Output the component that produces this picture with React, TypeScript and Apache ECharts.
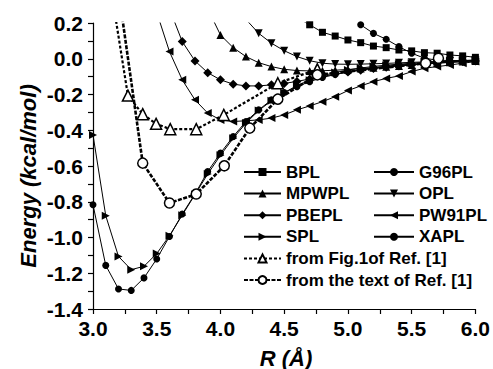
import React, { useEffect, useRef } from "react";
import * as echarts from "echarts";

// ---- data ----
const R_BPL = [4.6, 4.7, 4.8, 4.9, 5.0, 5.1, 5.2, 5.3, 5.4, 5.5, 5.6, 5.7, 5.8, 5.9, 6.0];
const E_BPL = [0.23, 0.19, 0.148, 0.127, 0.105, 0.09, 0.071, 0.062, 0.049, 0.044, 0.034, 0.031, 0.021, 0.016, 0.008];

const R_G96PL = [5.0, 5.1, 5.2, 5.3, 5.4, 5.5, 5.6, 5.7, 5.8, 5.9, 6.0];
const E_G96PL = [0.3, 0.19, 0.142, 0.109, 0.068, 0.031, 0.003, -0.008, -0.01, -0.01, -0.008];

const R_MPWPL = [3.9, 4.0, 4.1, 4.2, 4.3, 4.4, 4.5, 4.6, 4.7, 4.8, 4.9, 5.0, 5.1, 5.2, 5.3, 5.4, 5.5, 5.6, 5.7, 5.8, 5.9, 6.0];
const E_MPWPL = [0.28, 0.133, 0.062, 0.012, -0.022, -0.044, -0.059, -0.066, -0.068, -0.067, -0.064, -0.06, -0.055, -0.05, -0.045, -0.04, -0.035, -0.03, -0.025, -0.02, -0.016, -0.012];

const R_OPL = [4.2, 4.3, 4.4, 4.5, 4.6, 4.7, 4.8, 4.9, 5.0, 5.1, 5.2, 5.3, 5.4, 5.5, 5.6, 5.7, 5.8, 5.9, 6.0];
const E_OPL = [0.22, 0.142, 0.087, 0.045, 0.012, -0.011, -0.025, -0.03, -0.031, -0.03, -0.028, -0.026, -0.023, -0.02, -0.018, -0.015, -0.012, -0.01, -0.008];

const R_PBEPL = [3.6, 3.7, 3.8, 3.9, 4.0, 4.1, 4.2, 4.3, 4.4, 4.5, 4.6, 4.7, 4.8, 4.9, 5.0, 5.1, 5.2, 5.3, 5.4, 5.5, 5.6, 5.7, 5.8, 5.9, 6.0];
const E_PBEPL = [0.28, 0.096, -0.012, -0.078, -0.118, -0.142, -0.152, -0.152, -0.146, -0.138, -0.127, -0.113, -0.099, -0.086, -0.074, -0.064, -0.055, -0.047, -0.04, -0.034, -0.029, -0.024, -0.02, -0.016, -0.013];

const R_PW91PL = [3.5, 3.6, 3.7, 3.8, 3.9, 4.0, 4.1, 4.2, 4.3, 4.4, 4.5, 4.6, 4.7, 4.8, 4.9, 5.0, 5.1, 5.2, 5.3, 5.4, 5.5, 5.6, 5.7, 5.8, 5.9, 6.0];
const E_PW91PL = [0.26, 0.04, -0.118, -0.23, -0.304, -0.342, -0.351, -0.347, -0.342, -0.332, -0.314, -0.286, -0.264, -0.24, -0.212, -0.178, -0.152, -0.128, -0.11, -0.096, -0.072, -0.053, -0.044, -0.035, -0.025, -0.016];

const R_SPL = [3.0, 3.1, 3.2, 3.3, 3.4, 3.5, 3.6, 3.7, 3.8, 3.9, 4.0, 4.1, 4.2, 4.3, 4.4, 4.5, 4.6, 4.7, 4.8, 4.9, 5.0, 5.1, 5.2, 5.3, 5.4, 5.5, 5.6, 5.7, 5.8, 5.9, 6.0];
const E_SPL = [-0.426, -0.878, -1.106, -1.18, -1.161, -1.09, -0.99, -0.875, -0.76, -0.645, -0.54, -0.445, -0.36, -0.29, -0.235, -0.19, -0.15, -0.12, -0.095, -0.077, -0.063, -0.052, -0.043, -0.036, -0.03, -0.025, -0.021, -0.017, -0.014, -0.011, -0.009];

const R_XAPL = [3.0, 3.1, 3.2, 3.3, 3.4, 3.5, 3.6, 3.7, 3.8, 3.9, 4.0, 4.1, 4.2, 4.3, 4.4, 4.5, 4.6, 4.7, 4.8, 4.9, 5.0, 5.1, 5.2, 5.3, 5.4, 5.5, 5.6, 5.7, 5.8, 5.9, 6.0];
const E_XAPL = [-0.817, -1.156, -1.288, -1.296, -1.226, -1.12, -0.994, -0.869, -0.757, -0.631, -0.528, -0.435, -0.351, -0.286, -0.23, -0.189, -0.156, -0.128, -0.105, -0.088, -0.073, -0.06, -0.05, -0.042, -0.035, -0.03, -0.025, -0.02, -0.016, -0.013, -0.01];

const R_FIG1 = [3.15, 3.274, 3.39, 3.495, 3.606, 3.81, 4.026, 4.45, 4.76];
const E_FIG1 = [0.35, -0.206, -0.31, -0.364, -0.394, -0.394, -0.314, -0.137, -0.059];

const R_TEXT = [3.2, 3.39, 3.6, 3.81, 4.03, 4.23, 4.45, 4.76, 5.61, 5.71];
const E_TEXT = [0.38, -0.584, -0.807, -0.757, -0.599, -0.388, -0.226, -0.09, -0.025, 0.003];

const legendLeft = ["BPL", "MPWPL", "PBEPL", "SPL", "from Fig.1of Ref. [1]", "from the text of Ref. [1]"];
const legendRight = ["G96PL", "OPL", "PW91PL", "XAPL"];

const FONT = '"Liberation Sans", Arial, Helvetica, sans-serif';

const pairs = (r: number[], e: number[]) => r.map((x, i) => [x, e[i]]);

function funcSeries(name: string, r: number[], e: number[], symbol: string, size: number, rotate = 0) {
  return {
    name,
    type: "line",
    data: pairs(r, e),
    symbol,
    symbolSize: size,
    symbolRotate: rotate,
    clip: true,
    lineStyle: { color: "#000", width: 1 },
    itemStyle: { color: "#000", borderColor: "#000", borderWidth: 0 },
    z: 2,
  };
}

function refSeries(name: string, r: number[], e: number[], symbol: string, size: number, dash: number[], width: number) {
  return {
    name,
    type: "line",
    data: pairs(r, e),
    symbol,
    symbolSize: size,
    clip: true,
    lineStyle: { color: "#000", width, type: dash },
    itemStyle: { color: "#fff", borderColor: "#000", borderWidth: 1.5 },
    z: 3,
  };
}

export default function App() {
  const ref = useRef<HTMLDivElement>(null);
  useEffect(() => {
    if (!ref.current) return;
    const chart = echarts.init(ref.current, null, { renderer: "svg" });
    const legendCommon = {
      orient: "vertical",
      padding: 0,
      itemHeight: 10,
      itemGap: 4.6,
      selectedMode: false,
      textStyle: { fontFamily: FONT, fontWeight: "bold", fontSize: 17, lineHeight: 17, color: "#000" },
    };
    chart.setOption({
      animation: false,
      backgroundColor: "#fff",
      grid: { left: 93, right: 14, top: 23, bottom: 60, containLabel: false },
      legend: [
        { ...legendCommon, data: legendLeft, left: 243, top: 163.5, itemWidth: 37 },
        { ...legendCommon, data: legendRight, left: 373, top: 163.5, itemWidth: 40 },
      ],
      xAxis: {
        type: "value",
        min: 3,
        max: 6,
        interval: 0.5,
        axisLine: { show: true, onZero: false, lineStyle: { color: "#000", width: 1.2 } },
        axisTick: { show: true, inside: false, length: 5, lineStyle: { color: "#000", width: 1.2 } },
        minorTick: { show: true, splitNumber: 2, length: 5, lineStyle: { color: "#000", width: 1.2 } },
        splitLine: { show: false },
        axisLabel: {
          margin: 9,
          color: "#000",
          fontFamily: FONT,
          fontWeight: "bold",
          fontSize: 21,
          formatter: (v: number) => v.toFixed(1),
        },
      },
      yAxis: {
        type: "value",
        min: -1.4,
        max: 0.2,
        interval: 0.2,
        axisLine: { show: true, onZero: false, lineStyle: { color: "#000", width: 1.2 } },
        axisTick: { show: true, inside: false, length: 5, lineStyle: { color: "#000", width: 1.2 } },
        minorTick: { show: true, splitNumber: 2, length: 5, lineStyle: { color: "#000", width: 1.2 } },
        splitLine: { show: false },
        axisLabel: {
          margin: 10,
          color: "#000",
          fontFamily: FONT,
          fontWeight: "bold",
          fontSize: 21,
          formatter: (v: number) => v.toFixed(1),
        },
      },
      graphic: [
        {
          type: "text",
          x: 28,
          y: 176,
          rotation: Math.PI / 2,
          style: {
            text: "Energy (kcal/mol)",
            fill: "#000",
            fontFamily: FONT,
            fontWeight: "bold",
            fontStyle: "italic",
            fontSize: 22,
            align: "center",
            verticalAlign: "middle",
            textAlign: "center",
            textVerticalAlign: "middle",
          },
        },
        {
          type: "text",
          x: 286,
          y: 358,
          style: {
            text: "R (Å)",
            fill: "#000",
            fontFamily: FONT,
            fontWeight: "bold",
            fontStyle: "italic",
            fontSize: 22,
            align: "center",
            verticalAlign: "middle",
            textAlign: "center",
            textVerticalAlign: "middle",
          },
        },
      ],
      series: [
        funcSeries("BPL", R_BPL, E_BPL, "rect", 7),
        funcSeries("G96PL", R_G96PL, E_G96PL, "circle", 7),
        funcSeries("MPWPL", R_MPWPL, E_MPWPL, "triangle", 8),
        funcSeries("OPL", R_OPL, E_OPL, "triangle", 8, 180),
        funcSeries("PBEPL", R_PBEPL, E_PBEPL, "diamond", 9),
        funcSeries("PW91PL", R_PW91PL, E_PW91PL, "triangle", 8, 90),
        funcSeries("SPL", R_SPL, E_SPL, "triangle", 8, -90),
        funcSeries("XAPL", R_XAPL, E_XAPL, "circle", 7),
        refSeries("from Fig.1of Ref. [1]", R_FIG1, E_FIG1, "triangle", 11, [3, 2], 2.2),
        refSeries("from the text of Ref. [1]", R_TEXT, E_TEXT, "circle", 10, [4, 1.5], 2.6),
      ],
    });
    return () => chart.dispose();
  }, []);
  return <div ref={ref} style={{ position: "fixed", left: 0, top: 0, width: 493, height: 369 }} />;
}
